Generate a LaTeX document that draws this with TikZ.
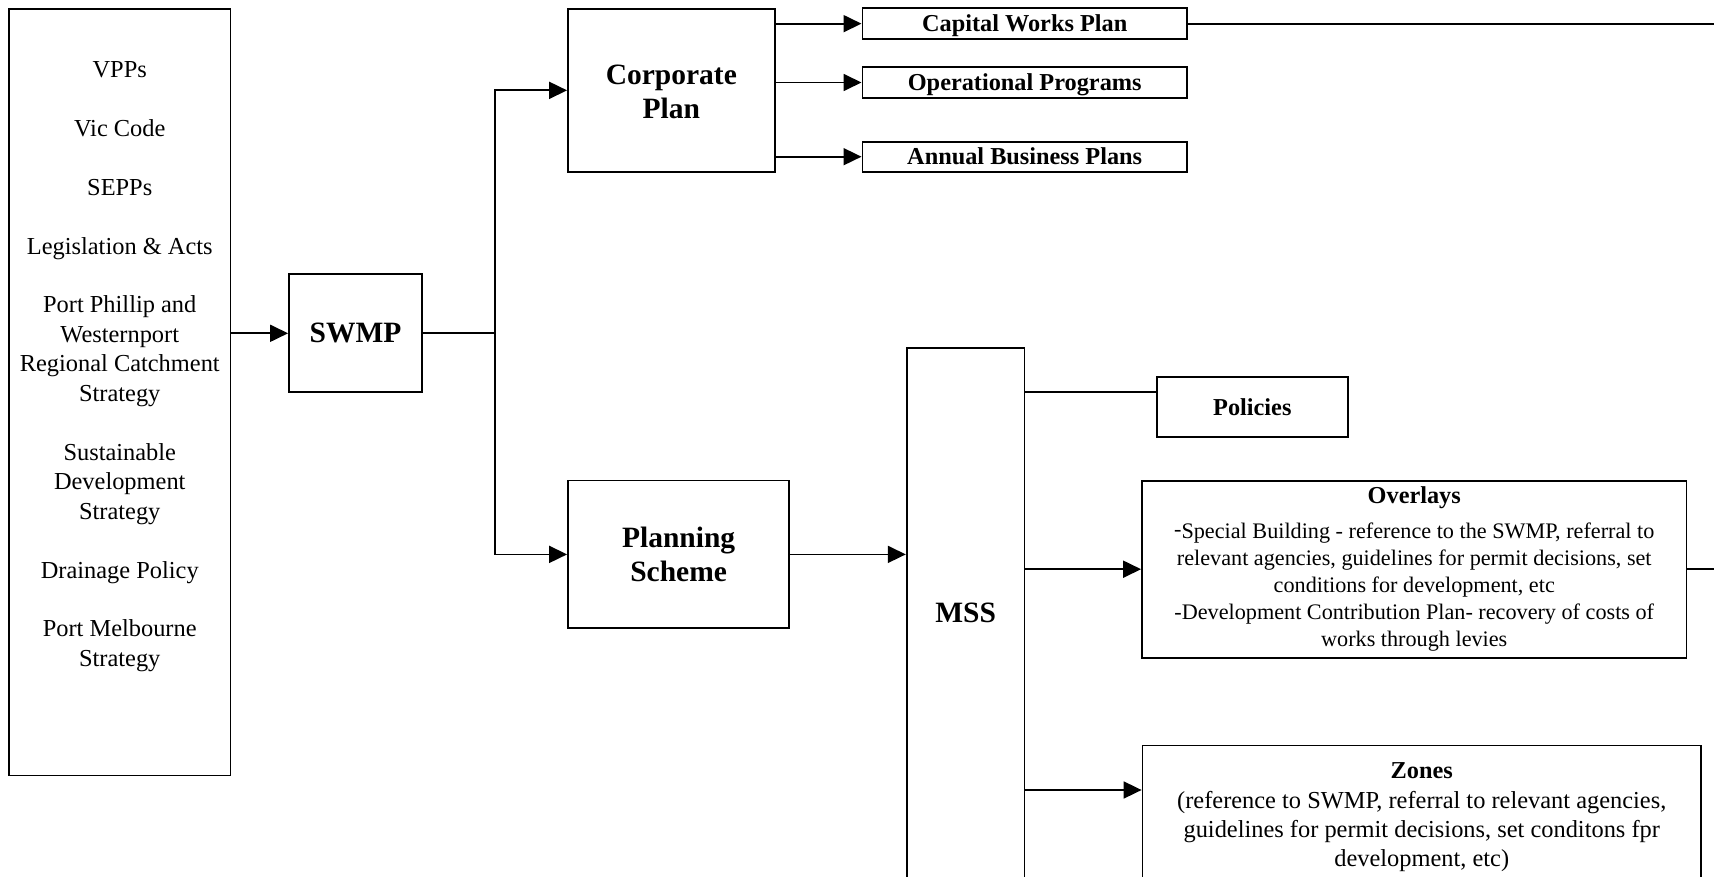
\documentclass[tikz,border=0pt]{standalone}
\usepackage{fontspec}
\setmainfont{Liberation Serif}
\usetikzlibrary{arrows.meta}
\begin{document}
\begin{tikzpicture}[x=1pt,y=-1pt,
  box/.style={draw, line width=1.8pt, inner sep=0pt, align=center},
  arr/.style={line width=1.8pt, -{Triangle[length=18pt,width=17pt]}},
  ln/.style={line width=1.8pt},
  head/.style={font=\fontsize{29.5}{34}\selectfont\bfseries},
  sub/.style={font=\fontsize{24.3}{28}\selectfont\bfseries, text height=16pt, text depth=0pt}]
\useasboundingbox (0,0) rectangle (1714,877);
% source box
\node[box, minimum width=221.5pt, minimum height=766.5pt] (src) at (119.75,392.25) {};
\node[anchor=north, align=center, inner sep=0pt, font=\fontsize{24.4}{29.45}\selectfont] (srctxt) at (119.75,61.2)
 {VPPs\\[29.45pt]Vic Code\\[29.45pt]SEPPs\\[29.45pt]Legislation \& Acts\\[29.45pt]Port Phillip and\\Westernport\\Regional Catchment\\Strategy\\[29.45pt]Sustainable\\Development\\Strategy\\[29.45pt]Drainage Policy\\[29.45pt]Port Melbourne\\Strategy};
% main boxes
\node[box, head, minimum width=133pt, minimum height=118pt] (swmp) at (355.5,333.3) {SWMP};
\node[box, head, minimum width=206.7pt, minimum height=162.7pt] (corp) at (671.35,90.35) {\rule{0pt}{22pt}Corporate\\Plan};
\node[box, sub, minimum width=324.6pt, minimum height=30.7pt] (cap) at (1024.7,23.65) {Capital Works Plan};
\node[box, sub, minimum width=324.6pt, minimum height=30.4pt] (ops) at (1024.7,82.5) {Operational Programs};
\node[box, sub, minimum width=324.6pt, minimum height=30pt] (abp) at (1024.7,156.7) {Annual Business Plans};
\node[box, head, minimum width=221.3pt, minimum height=147.8pt] (plan) at (678.65,554.4) {Planning\\Scheme};
\node[box, head, minimum width=117.8pt, minimum height=531.3pt] (mss) at (965.6,613.35) {MSS};
\node[box, sub, minimum width=191.4pt, minimum height=59.4pt] (pol) at (1252.3,407) {Policies};
\node[box, minimum width=544.5pt, minimum height=177pt, font=\fontsize{22.2}{27}\selectfont] (ovl) at (1414.25,569.2)
 {{\fontsize{24.3}{27}\selectfont\bfseries Overlays}\\[8pt]\raisebox{2.5pt}{-}Special Building - reference to the SWMP, referral to\\relevant agencies, guidelines for permit decisions, set\\conditions for development, etc\\-Development Contribution Plan- recovery of costs of\\works through levies};
\node[box, minimum width=558.5pt, minimum height=139.5pt] (zon) at (1421.75,815.25) {};
\node[anchor=north, align=center, inner sep=0pt, font=\fontsize{24.4}{29}\selectfont] (zontxt) at (1421.75,762)
 {{\fontsize{24.3}{29}\selectfont\bfseries Zones}\\[1pt](reference to SWMP, referral to relevant agencies,\\guidelines for permit decisions, set conditons fpr\\development, etc)};
% helper coordinates
\coordinate (jn) at (494.8,333.3);
\coordinate (redge) at (1714,0);
\coordinate (polline) at (0,392);
\coordinate (zonline) at (0,790);
% connectors
\draw[arr] (src.east |- swmp.west) -- (swmp.west);
\draw[ln] (swmp.east) -- (jn);
\draw[arr] (jn) |- (corp.west);
\draw[arr] (jn) |- (plan.west);
\draw[arr] (corp.east |- cap.west) -- (cap.west);
\draw[arr] (corp.east |- ops.west) -- (ops.west);
\draw[arr] (corp.east |- abp.west) -- (abp.west);
\draw[ln] (cap.east) -- (cap.east -| redge);
\draw[arr] (plan.east) -- (mss.west |- plan.east);
\draw[ln] (mss.east |- polline) -- (pol.west |- polline);
\draw[arr] (mss.east |- ovl.west) -- (ovl.west);
\draw[arr] (mss.east |- zonline) -- (zon.west |- zonline);
\draw[ln] (ovl.east) -- (ovl.east -| redge);
\end{tikzpicture}
\end{document}
